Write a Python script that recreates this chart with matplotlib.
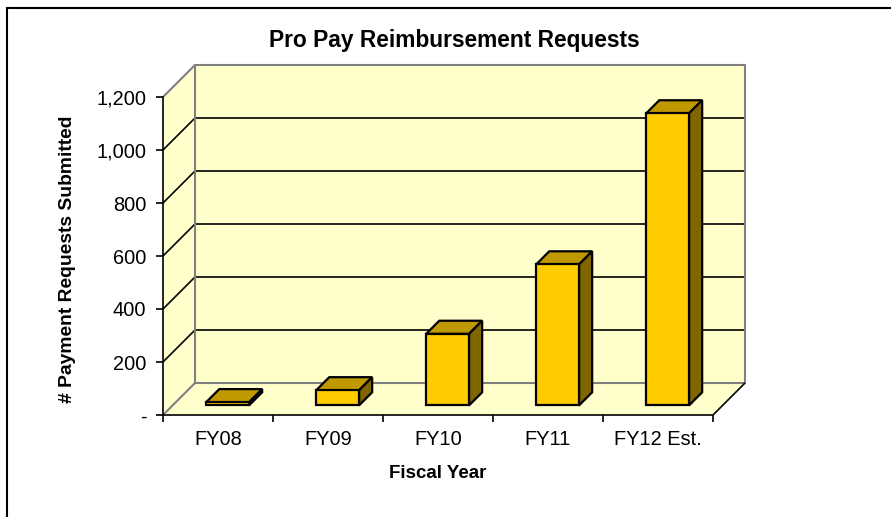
import matplotlib
matplotlib.use('Agg')
import matplotlib.pyplot as plt
from matplotlib.patches import Polygon, Rectangle

plt.rcParams['font.family'] = ['Liberation Sans', 'DejaVu Sans']

categories = ['FY08', 'FY09', 'FY10', 'FY11', 'FY12 Est.']
requests = [12, 57, 270, 532, 1102]
y_ticks = [0, 200, 400, 600, 800, 1000, 1200]
y_labels = ['-', '200', '400', '600', '800', '1,000', '1,200']

W, H = 891, 517
WALL = '#FFFFCC'
GREY = '#808080'

# depth of the fake 3d box, in data units
DX = 32 / 110
DY = 32 / 53 * 200


def proj(x, y, z):
    return x + z * DX, y + z * DY


def face(ax, pts, color, edge='none', lw=1.6, zorder=1):
    ax.add_patch(Polygon([proj(*p) for p in pts], closed=True, facecolor=color,
                         edgecolor=edge, linewidth=lw, clip_on=False,
                         zorder=zorder, joinstyle='miter'))


def line(ax, pts, color='black', lw=1.2, zorder=2):
    xs, ys = zip(*[proj(*p) for p in pts])
    ax.plot(xs, ys, color=color, lw=lw, clip_on=False, zorder=zorder,
            solid_capstyle='butt')


def draw_box(ax):
    n = len(categories)
    top = y_ticks[-1]
    face(ax, [(0, 0, 1), (n, 0, 1), (n, top, 1), (0, top, 1)], WALL)
    face(ax, [(0, 0, 0), (0, 0, 1), (0, top, 1), (0, top, 0)], WALL)
    face(ax, [(0, 0, 0), (n, 0, 0), (n, 0, 1), (0, 0, 1)], WALL)
    for v in y_ticks[1:-1]:
        line(ax, [(0, v, 0), (0, v, 1), (n, v, 1)])
    line(ax, [(0, top, 0), (0, top, 1), (n, top, 1), (n, 0, 1), (0, 0, 1), (0, 0, 0)], GREY, 1.5)
    line(ax, [(0, top, 1), (0, 0, 1)], GREY, 1.5)
    line(ax, [(n, 0, 0), (n, 0, 1)])


def draw_bars(ax):
    hw = 0.195
    z0, z1 = 0.3, 0.71
    for i, v in enumerate(requests):
        c = i + 0.5
        a, b = c - hw, c + hw
        face(ax, [(a, v, z0), (b, v, z0), (b, v, z1), (a, v, z1)], '#BF9900', 'black', zorder=3)
        face(ax, [(b, 0, z0), (b, 0, z1), (b, v, z1), (b, v, z0)], '#806600', 'black', zorder=3)
        face(ax, [(a, 0, z0), (b, 0, z0), (b, v, z0), (a, v, z0)], '#FFCC00', 'black', zorder=4)


def main():
    fig = plt.figure(figsize=(W / 100, H / 100), dpi=100)
    fig.add_artist(Rectangle((7 / W, -0.02), 1, 1.02 - 8 / H, transform=fig.transFigure,
                             fill=False, edgecolor='black', linewidth=1.5))

    ax = fig.add_axes([163 / W, 1 - 415 / H, 550 / W, 318 / H])
    ax.set_xlim(0, len(categories))
    ax.set_ylim(0, y_ticks[-1])
    ax.patch.set_visible(False)
    for s in ['top', 'right']:
        ax.spines[s].set_visible(False)
    for s in ['left', 'bottom']:
        ax.spines[s].set_linewidth(1.2)
        ax.spines[s].set_zorder(6)

    draw_box(ax)
    draw_bars(ax)

    ax.set_yticks(y_ticks)
    ax.set_yticklabels(y_labels)
    ax.set_xticks(range(len(categories) + 1))
    ax.set_xticklabels([])
    ax.set_xticks([i + 0.5 for i in range(len(categories))], categories, minor=True)
    ax.tick_params(axis='y', length=5, width=1.2, labelsize=14.4, pad=7)
    ax.tick_params(axis='x', which='major', length=5, width=1.2)
    ax.tick_params(axis='x', which='minor', length=0, labelsize=14.4, pad=11)

    fig.text(454.5 / W, 1 - 41 / H, 'Pro Pay Reimbursement Requests', ha='center', va='center',
             fontsize=16.4, fontweight='bold')
    fig.text(437.5 / W, 1 - 473 / H, 'Fiscal Year', ha='center', va='center',
             fontsize=13.5, fontweight='bold')
    fig.text(68 / W, 1 - 259 / H, '# Payment Requests Submitted', ha='center', va='center',
             rotation=90, fontsize=13.9, fontweight='bold')

    fig.savefig('out.png', dpi=100)


if __name__ == '__main__':
    main()
